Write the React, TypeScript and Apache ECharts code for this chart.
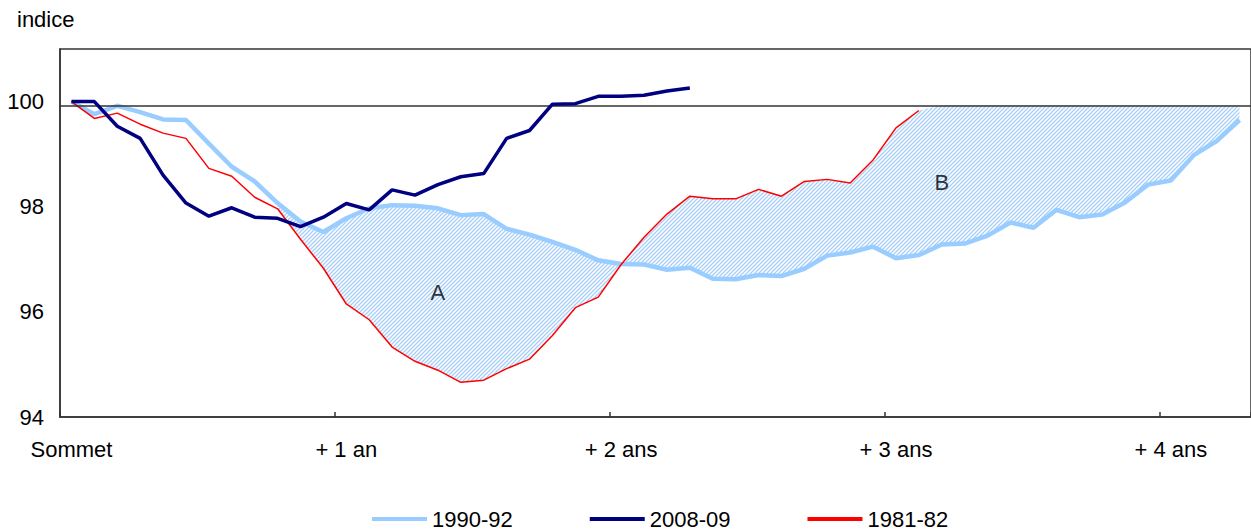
import React, { useEffect, useRef } from 'react';
import * as echarts from 'echarts';

// Months after the peak (0 = "Sommet")
const MONTHS = ['m0','m1','m2','m3','m4','m5','m6','m7','m8','m9','m10','m11','m12','m13','m14','m15','m16','m17','m18','m19','m20','m21','m22','m23','m24','m25','m26','m27','m28','m29','m30','m31','m32','m33','m34','m35','m36','m37','m38','m39','m40','m41','m42','m43','m44','m45','m46','m47','m48','m49','m50','m51'];
const TICK_LABELS = ['Sommet', '+ 1 an', '+ 2 ans', '+ 3 ans', '+ 4 ans'];

const S_1990_92 = [100, 99.76, 99.92, 99.8, 99.66, 99.65, 99.2, 98.76, 98.48, 98.07, 97.72, 97.52, 97.78, 97.97, 98.03, 98.02, 97.97, 97.84, 97.86, 97.58, 97.47, 97.33, 97.18, 96.98, 96.91, 96.9, 96.8, 96.84, 96.63, 96.62, 96.7, 96.68, 96.82, 97.07, 97.13, 97.24, 97.02, 97.08, 97.28, 97.3, 97.45, 97.7, 97.6, 97.94, 97.8, 97.85, 98.08, 98.42, 98.5, 98.98, 99.25, 99.65];
const S_2008_09 = [100, 100, 99.53, 99.3, 98.6, 98.07, 97.82, 97.98, 97.8, 97.78, 97.62, 97.8, 98.06, 97.94, 98.32, 98.22, 98.42, 98.57, 98.63, 99.3, 99.45, 99.95, 99.96, 100.1, 100.1, 100.12, 100.2, 100.26];
const S_1981_82 = [100, 99.68, 99.78, 99.57, 99.4, 99.3, 98.73, 98.58, 98.18, 97.96, 97.38, 96.83, 96.15, 95.85, 95.33, 95.06, 94.89, 94.66, 94.7, 94.92, 95.1, 95.55, 96.08, 96.28, 96.9, 97.42, 97.86, 98.2, 98.15, 98.15, 98.33, 98.2, 98.48, 98.52, 98.45, 98.89, 99.5, 99.83];

const REF_LEVEL = 99.93;
const HATCH_START = 9;
const Y_LABELS = [94, 96, 98, 100];
const ANNOTATIONS = [
  { name: 'A', value: [16, 96.36] },
  { name: 'B', value: [38, 98.47] },
];

const FONT = '"Liberation Sans", Arial, sans-serif';
const C_LIGHT = '#99ccff';
const C_NAVY = '#000080';
const C_RED = '#ff0000';
const C_HATCH = '#a6cff7';

function makeHatch(): HTMLCanvasElement {
  const s = 4;
  const c = document.createElement('canvas');
  c.width = s;
  c.height = s;
  const ctx = c.getContext('2d')!;
  ctx.fillStyle = '#ffffff';
  ctx.fillRect(0, 0, s, s);
  ctx.strokeStyle = C_HATCH;
  ctx.lineWidth = 1.25;
  ctx.beginPath();
  ctx.moveTo(0, s); ctx.lineTo(s, 0);
  ctx.moveTo(-1, 1); ctx.lineTo(1, -1);
  ctx.moveTo(s - 1, s + 1); ctx.lineTo(s + 1, s - 1);
  ctx.stroke();
  return c;
}

export default function App() {
  const ref = useRef<HTMLDivElement>(null);
  useEffect(() => {
    if (!ref.current) return;
    const chart = echarts.init(ref.current, undefined, { renderer: 'svg' });

    const lower: (number | string)[] = [];
    const band: (number | string)[] = [];
    for (let i = 0; i < MONTHS.length; i++) {
      const b = S_1990_92[i];
      const r = i < S_1981_82.length ? S_1981_82[i] : undefined;
      if (i < HATCH_START || b === undefined) {
        lower.push('-');
        band.push('-');
        continue;
      }
      const top = r === undefined ? REF_LEVEL : Math.min(Math.max(r, b), REF_LEVEL);
      const bot = r === undefined ? b : Math.min(r, b);
      lower.push(bot);
      band.push(Math.max(0, top - bot));
    }

    const lineBase = { type: 'line', symbol: 'none', showSymbol: false, smooth: false };

    chart.setOption({
      animation: false,
      textStyle: { fontFamily: FONT },
      grid: { left: 60, top: 49, width: 1199, height: 368, show: true, borderColor: '#333', borderWidth: 1.5, backgroundColor: 'transparent' },
      graphic: [
        { type: 'text', left: 17, top: 8, style: { text: 'indice', font: `22px ${FONT}`, fill: '#000' } },
      ],
      legend: {
        data: [
          { name: '1990-92', icon: 'rect', itemStyle: { color: C_LIGHT } },
          { name: '2008-09', icon: 'rect', itemStyle: { color: C_NAVY } },
          { name: '1981-82', icon: 'rect', itemStyle: { color: C_RED } },
        ],
        left: 372,
        top: 508,
        padding: 0,
        itemWidth: 55,
        itemHeight: 4,
        itemGap: 77,
        textStyle: { fontSize: 22, lineHeight: 18, color: '#000', fontFamily: FONT },
      },
      xAxis: {
        type: 'category',
        data: MONTHS,
        boundaryGap: true,
        axisLine: { lineStyle: { color: '#333', width: 1.5 } },
        axisTick: { show: true, inside: true, length: 5, interval: 11, lineStyle: { color: '#333', width: 1.5 } },
        axisLabel: {
          interval: 11,
          margin: 21,
          fontSize: 22,
          color: '#000',
          fontFamily: FONT,
          formatter: (_v: string, idx: number) => (idx % 12 === 0 ? TICK_LABELS[idx / 12] ?? '' : ''),
        },
        splitLine: { show: false },
      },
      yAxis: {
        type: 'value',
        min: 94,
        max: 101,
        interval: 2,
        axisLine: { show: true, lineStyle: { color: '#333', width: 1.5 } },
        axisTick: { show: false },
        splitLine: { show: false },
        axisLabel: {
          margin: 16,
          fontSize: 22,
          color: '#000',
          fontFamily: FONT,
          formatter: (v: number) => (Y_LABELS.includes(v) ? String(v) : ''),
        },
      },
      series: [
        {
          ...lineBase,
          name: 'hatchBase',
          data: lower,
          stack: 'hatch',
          lineStyle: { width: 0, opacity: 0 },
          silent: true,
          z: 1,
        },
        {
          ...lineBase,
          name: 'hatchBand',
          data: band,
          stack: 'hatch',
          lineStyle: { width: 0, opacity: 0 },
          areaStyle: { color: { image: makeHatch(), repeat: 'repeat' }, opacity: 1 },
          silent: true,
          z: 1,
          markLine: {
            silent: true,
            symbol: 'none',
            label: { show: false },
            lineStyle: { color: '#333', width: 1.5, type: 'solid' },
            data: [{ yAxis: REF_LEVEL }],
          },
        },
        { ...lineBase, name: '1990-92', data: S_1990_92, lineStyle: { color: C_LIGHT, width: 4.5 }, itemStyle: { color: C_LIGHT }, z: 3 },
        { ...lineBase, name: '1981-82', data: S_1981_82, lineStyle: { color: C_RED, width: 1.5 }, itemStyle: { color: C_RED }, z: 4 },
        { ...lineBase, name: '2008-09', data: S_2008_09, lineStyle: { color: C_NAVY, width: 3.5 }, itemStyle: { color: C_NAVY }, z: 5 },
        {
          type: 'scatter',
          name: 'labels',
          data: ANNOTATIONS,
          symbolSize: 0,
          silent: true,
          z: 6,
          label: { show: true, position: 'inside', formatter: '{b}', fontSize: 22, color: '#000', fontFamily: FONT },
        },
      ],
    });
    return () => chart.dispose();
  }, []);
  return <div ref={ref} style={{ position: 'absolute', left: 0, top: 0, width: 1251, height: 531 }} />;
}
